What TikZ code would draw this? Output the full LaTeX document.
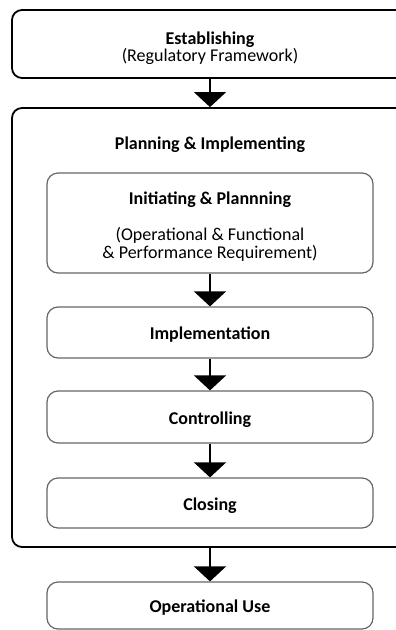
\documentclass[tikz,border=0pt]{standalone}
\usepackage{fontspec}
\setmainfont{Carlito}
\usetikzlibrary{arrows.meta}
\begin{document}
\begin{tikzpicture}[x=1pt,y=-1pt,
  outbox/.style={draw=black, line width=1.8pt, rounded corners=10pt, inner sep=0pt, minimum width=396pt},
  inbox/.style={draw=black!60, line width=1.2pt, rounded corners=11pt, inner sep=0pt, minimum width=326pt},
  lbl/.style={font=\fontsize{18}{18}\selectfont, inner sep=0pt, anchor=base},
  blbl/.style={font=\fontsize{18}{18}\selectfont\bfseries, inner sep=0pt, anchor=base},
  flow/.style={line width=1.5pt, -{Triangle[width=32pt,length=15pt]}}
]
\useasboundingbox (0,0) rectangle (396,630);
\clip (0,0) rectangle (396,630);
% boxes
\node[outbox, minimum height=68pt] (est) at (210,44) {};
\node[outbox, minimum height=439pt] (plan) at (210,327.5) {};
\node[inbox, minimum height=100pt] (init) at (210,223) {};
\node[inbox, minimum height=51pt] (impl) at (210,332.5) {};
\node[inbox, minimum height=52pt] (ctrl) at (210,417) {};
\node[inbox, minimum height=50pt] (clos) at (210,503) {};
\node[inbox, minimum height=47pt] (ops) at (210,605.5) {};
% texts
\node[blbl] (estA) at (210,44) {Establishing};
\node[lbl] (estB) at (210,61) {(Regulatory Framework)};
\node[blbl] (planT) at (210,149) {Planning \& Implementing};
\node[blbl] (initA) at (210,204) {Initiating \& Plannning};
\node[lbl] (initB) at (210,240) {(Operational \& Functional};
\node[lbl] (initC) at (210,258) {\& Performance Requirement)};
\node[blbl] (implT) at (210,339.5) {Implementation};
\node[blbl] (ctrlT) at (210,424) {Controlling};
\node[blbl] (closT) at (210,510) {Closing};
\node[blbl] (opsT) at (210,612.5) {Operational Use};
% connectors
\draw[flow] (est.south) -- (plan.north);
\draw[flow] (init.south) -- (impl.north);
\draw[flow] (impl.south) -- (ctrl.north);
\draw[flow] (ctrl.south) -- (clos.north);
\draw[flow] (plan.south) -- (ops.north);
\end{tikzpicture}
\end{document}
